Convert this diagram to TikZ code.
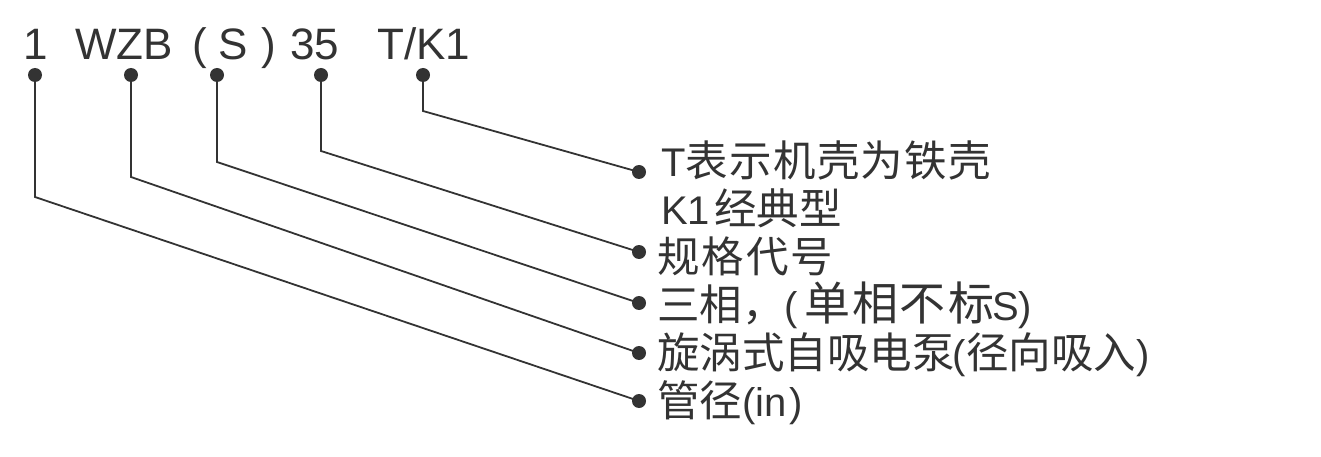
\documentclass[tikz,border=0pt]{standalone}
\usepackage{fontspec}
\setmainfont{Liberation Sans}
\newfontfamily\cjkfont{Noto Sans CJK SC}
\newcommand\zhtext[1]{{\cjkfont\fontsize{42.5}{48}\selectfont #1}}
\newcommand\zhbig[1]{{\cjkfont\fontsize{46}{48}\selectfont #1}}
\definecolor{ink}{HTML}{333333}
\begin{document}
\begin{tikzpicture}[x=1pt,y=-1pt,
  toptext/.style={anchor=base west,inner sep=0pt,text=ink,font=\fontsize{44}{50}\selectfont},
  lbl/.style={anchor=base west,inner sep=0pt,text=ink,font=\fontsize{40}{48}\selectfont},
  dot/.style={circle,fill=ink,inner sep=0pt,minimum size=14pt},
  conn/.style={draw=ink,line width=1.8pt}]
\useasboundingbox (0,0) rectangle (1321,457);
% top code
\node[toptext] (c1) at (23,60) {1};
\node[toptext] (cwzb) at (75,60) {WZB};
\node[toptext] (cpl) at (192,60) {(};
\node[toptext] (cs) at (218,60) {S};
\node[toptext] (cpr) at (261,60) {)};
\node[toptext] (c35) at (290,60) {35};
\node[toptext] (ctk) at (377,60) {T/K1};
% top dots
\node[dot] (t1) at (35,75) {};
\node[dot] (t2) at (131,75) {};
\node[dot] (t3) at (217,75) {};
\node[dot] (t4) at (321,75) {};
\node[dot] (t5) at (423,75) {};
% elbows
\coordinate (e1) at (35,197);
\coordinate (e2) at (131,177);
\coordinate (e3) at (217,162);
\coordinate (e4) at (321,151);
\coordinate (e5) at (423,111);
% right dots
\node[dot] (r5) at (639,172) {};
\node[dot] (r4) at (639,252) {};
\node[dot] (r3) at (639,303) {};
\node[dot] (r2) at (639,353) {};
\node[dot] (r1) at (639,401) {};
% labels
\node[lbl] (l5a) at (661,176) {T\zhtext{表\kern1.3pt 示\kern1.3pt 机\kern1.3pt 壳\kern1.3pt 为\kern1.3pt 铁\kern1.3pt 壳}};
\node[lbl] (l5b) at (661,224) {K1\kern4pt\zhtext{经典型}};
\node[lbl] (l4) at (657,272) {\zhtext{规\kern2pt 格\kern2pt 代\kern2pt 号}};
\node[lbl] (l3) at (657,320) {\zhtext{三相，}(\kern6pt\zhbig{单\kern2pt 相\kern2pt 不\kern2pt 标}\kern-2pt S)};
\node[lbl] (l2) at (657,368) {\zhtext{旋涡式自吸电泵}\kern-2pt(\zhtext{径向吸入})};
\node[lbl] (l1) at (657,416) {\zhtext{管径}(in\kern3pt)};
% connectors
\draw[conn] (t1.center) -- (e1) -- (r1.center);
\draw[conn] (t2.center) -- (e2) -- (r2.center);
\draw[conn] (t3.center) -- (e3) -- (r3.center);
\draw[conn] (t4.center) -- (e4) -- (r4.center);
\draw[conn] (t5.center) -- (e5) -- (r5.center);
\end{tikzpicture}
\end{document}
